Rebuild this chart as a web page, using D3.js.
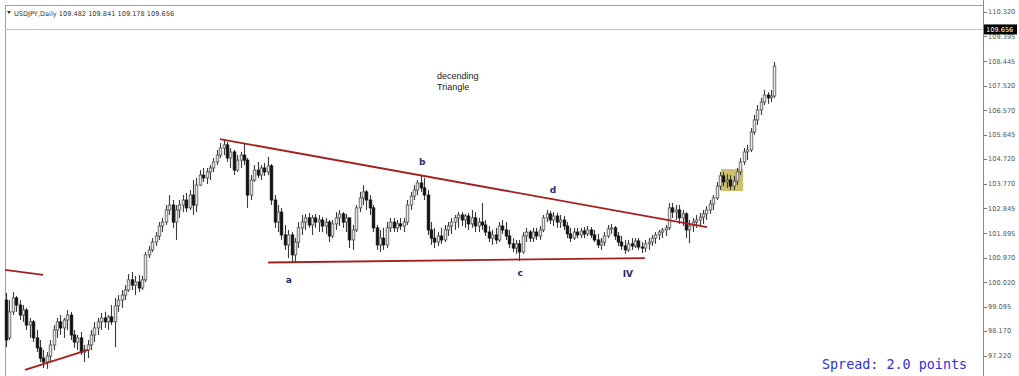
<!DOCTYPE html>
<html><head><meta charset="utf-8">
<script src="https://cdn.jsdelivr.net/npm/d3@7/dist/d3.min.js"></script>
<style>html,body{margin:0;padding:0;background:#fff;}svg{display:block;}</style>
</head><body>
<svg id="chart" width="1019" height="376"></svg>
<script>
// ---- data (USDJPY daily candles) ----
const opens = [99.35,97.91,98.90,99.43,99.16,98.78,98.97,98.40,98.52,97.91,97.53,97.14,96.99,97.22,97.64,98.21,98.52,98.29,98.59,98.78,98.02,97.75,97.91,97.37,97.45,97.64,98.02,98.29,98.52,98.67,98.52,98.71,98.52,99.13,99.35,99.54,99.73,100.12,99.92,100.04,99.81,100.12,101.07,101.26,101.56,101.79,102.17,102.32,102.78,102.97,102.32,102.78,102.97,103.16,102.86,103.35,102.97,103.73,104.11,104.00,104.23,104.38,104.61,104.87,105.14,105.26,104.76,104.99,104.30,104.68,104.87,104.68,103.35,103.92,104.30,104.11,104.38,104.23,104.46,103.16,102.32,102.70,101.83,101.45,101.83,101.07,101.56,102.10,102.32,102.48,102.21,102.48,102.32,102.40,102.17,102.32,101.79,102.25,102.48,102.63,102.32,102.48,101.64,102.02,102.86,103.24,103.47,103.16,102.86,102.10,101.45,101.71,101.45,102.10,102.32,102.10,102.25,102.17,102.32,102.97,103.31,103.54,103.81,103.62,103.35,102.02,101.71,101.56,101.79,101.64,102.02,102.17,102.32,102.48,102.59,102.40,102.55,102.25,102.48,102.17,102.32,102.21,101.94,101.71,101.83,101.64,102.17,102.02,101.79,101.49,101.33,101.49,101.18,101.79,101.94,101.71,101.94,101.79,102.02,102.48,102.63,102.40,102.55,102.32,102.40,102.17,101.87,101.71,101.94,101.83,101.98,101.87,102.02,101.83,101.64,101.45,101.56,101.79,102.06,102.10,101.79,101.56,101.41,101.26,101.49,101.41,101.60,101.37,101.33,101.49,101.56,101.71,101.83,101.94,102.02,102.10,102.86,102.70,102.78,102.48,102.63,102.02,102.17,102.32,102.40,102.51,102.63,102.78,103.01,103.24,103.69,104.08,103.85,103.92,103.69,103.88,104.23,104.61,104.99,105.07,105.75,106.21,106.59,106.89,107.16,107.05,107.12];
const highs = [99.62,99.35,99.66,99.51,99.35,99.16,99.05,98.67,98.59,98.21,97.83,97.45,97.37,97.83,98.40,98.67,98.78,98.67,98.97,98.90,98.21,98.02,98.13,97.64,97.83,98.21,98.52,98.67,98.86,98.90,98.78,99.16,99.43,99.54,99.73,99.92,100.34,100.42,100.27,100.31,100.27,101.18,101.41,101.71,101.94,102.32,102.48,102.97,103.35,103.16,102.97,103.16,103.35,103.43,103.54,103.92,104.00,104.30,104.38,104.38,104.49,104.76,105.07,105.33,105.45,105.37,105.14,105.07,104.87,104.99,105.33,104.76,104.11,104.49,104.61,104.49,104.57,104.80,104.53,103.35,102.97,102.86,102.21,102.02,101.94,101.71,102.32,102.59,102.63,102.67,102.59,102.63,102.59,102.51,102.48,102.40,102.40,102.70,102.78,102.70,102.63,102.48,102.21,102.97,103.47,103.73,103.54,103.35,102.97,102.21,102.02,102.10,102.32,102.48,102.48,102.40,102.48,102.48,103.16,103.47,103.73,103.92,104.08,104.00,103.54,102.32,102.10,101.94,102.10,102.21,102.32,102.48,102.59,102.70,102.70,102.63,102.67,102.78,102.70,102.48,103.05,102.40,102.17,102.02,102.10,102.32,102.40,102.32,102.02,101.71,101.64,101.64,101.94,102.10,102.02,102.10,102.10,102.17,102.59,102.78,102.74,102.70,102.67,102.59,102.55,102.32,102.10,102.10,102.10,102.10,102.13,102.17,102.13,102.02,101.87,101.71,101.94,102.21,102.25,102.17,101.94,101.79,101.64,101.64,101.71,101.71,101.71,101.56,101.64,101.71,101.83,101.94,102.02,102.10,102.21,103.05,103.05,102.97,102.97,102.78,102.70,102.40,102.48,102.59,102.67,102.78,102.93,103.16,103.35,103.85,104.23,104.23,104.15,104.11,104.08,104.38,104.76,105.14,105.26,105.90,106.40,106.78,107.05,107.35,107.27,107.35,108.42];
const lows = [97.56,97.83,98.78,98.90,98.59,98.52,98.21,97.91,97.75,97.37,96.99,96.76,96.73,96.99,97.45,97.91,98.02,97.91,98.21,97.83,97.53,97.45,97.26,96.99,97.14,97.45,97.75,98.02,98.21,98.29,98.21,98.40,97.56,98.90,99.05,99.35,99.66,99.73,99.54,99.66,99.73,100.04,100.95,101.18,101.41,101.64,101.94,102.21,102.59,102.10,101.64,102.48,102.70,102.70,102.78,102.59,102.70,103.69,103.85,103.77,103.92,104.23,104.49,104.76,104.87,104.61,104.38,104.11,104.23,104.38,104.49,102.86,103.16,103.85,104.00,103.92,104.08,104.11,102.97,102.10,101.94,101.64,101.26,100.95,100.80,100.80,101.33,101.83,102.02,102.10,101.83,102.10,101.94,101.94,101.87,101.56,101.71,102.02,102.17,102.10,101.94,101.33,101.26,101.94,102.70,102.97,102.78,102.59,101.94,101.26,101.18,101.26,101.33,101.94,101.94,101.94,102.02,101.94,102.21,102.78,103.16,103.35,103.47,103.16,101.83,101.45,101.33,101.41,101.49,101.56,101.79,101.87,102.02,102.10,102.17,102.10,102.02,102.10,101.94,101.94,102.02,101.79,101.56,101.45,101.49,101.56,101.87,101.64,101.33,101.18,101.11,100.84,101.11,101.56,101.56,101.56,101.64,101.64,101.94,102.32,102.25,102.17,102.10,102.10,102.02,101.71,101.56,101.64,101.71,101.71,101.71,101.79,101.71,101.56,101.33,101.26,101.41,101.71,101.87,101.64,101.41,101.26,101.11,101.18,101.26,101.33,101.26,101.14,101.18,101.26,101.41,101.49,101.64,101.71,101.79,102.02,102.48,102.40,102.25,102.17,101.71,101.52,101.94,102.10,102.17,102.25,102.40,102.63,102.78,103.16,103.54,103.69,103.62,103.54,103.54,103.73,104.11,104.49,104.68,104.99,105.64,106.02,106.40,106.78,106.82,106.89,107.05];
const closes = [97.83,98.90,99.43,99.16,98.78,98.97,98.40,98.52,97.91,97.53,97.14,96.99,97.22,97.64,98.21,98.52,98.29,98.59,98.78,98.02,97.75,97.91,97.37,97.45,97.64,98.02,98.29,98.52,98.67,98.52,98.71,98.52,99.13,99.35,99.54,99.73,100.12,99.92,100.04,99.81,100.12,101.07,101.26,101.56,101.79,102.17,102.32,102.78,102.97,102.32,102.78,102.97,103.16,102.86,103.35,102.97,103.73,104.11,104.00,104.23,104.38,104.61,104.87,105.14,105.26,104.76,104.99,104.30,104.68,104.87,104.68,103.35,103.92,104.30,104.11,104.38,104.23,104.46,103.16,102.32,102.70,101.83,101.45,101.83,101.07,101.56,102.10,102.32,102.48,102.21,102.48,102.32,102.40,102.17,102.32,101.79,102.25,102.48,102.63,102.32,102.48,101.64,102.02,102.86,103.24,103.47,103.16,102.86,102.10,101.45,101.71,101.45,102.10,102.32,102.10,102.25,102.17,102.32,102.97,103.31,103.54,103.81,103.62,103.35,102.02,101.71,101.56,101.79,101.64,102.02,102.17,102.32,102.48,102.59,102.40,102.55,102.25,102.48,102.17,102.32,102.21,101.94,101.71,101.83,101.64,102.17,102.02,101.79,101.49,101.33,101.49,101.18,101.79,101.94,101.71,101.94,101.79,102.02,102.48,102.63,102.40,102.55,102.32,102.40,102.17,101.87,101.71,101.94,101.83,101.98,101.87,102.02,101.83,101.64,101.45,101.56,101.79,102.06,102.10,101.79,101.56,101.41,101.26,101.49,101.41,101.60,101.37,101.33,101.49,101.56,101.71,101.83,101.94,102.02,102.10,102.86,102.70,102.78,102.48,102.63,102.02,102.17,102.32,102.40,102.51,102.63,102.78,103.01,103.24,103.69,104.08,103.85,103.92,103.69,103.88,104.23,104.61,104.99,105.07,105.75,106.21,106.59,106.89,107.16,107.05,107.12,108.26];

const tickValues = [110.320,109.395,108.445,107.520,106.570,105.645,104.720,103.770,102.845,101.895,100.970,100.020,99.095,98.170,97.220];
const currentPrice = 109.656;
const titleText = "USDJPY,Daily  109.482 109.841 109.178 109.656";

// trend lines: [barIndex, price] endpoints
const trendUpper = [[62.9,105.48],[206.2,102.13]];
const trendLower = [[77.1,100.78],[187.9,100.95]];
const trendLeftTop = [[-0.3,100.50],[10.9,100.31]];
const trendLeftBottom = [[5.6,96.69],[24.1,97.45]];
// wave labels: [text, barIndex, price]
const waveLabels = [["a",83.2,100.12],["b",122.4,104.61],["c",151.2,100.38],["d",160.9,103.54],["IV",182.9,100.34]];
const noteLines = ["decending","Triangle"];
const highlightBox = {i0:210.3,i1:216.8,p0:104.34,p1:103.50};

// ---- drawing ----
const W=1019,H=376, axisX=983, frameTop=5, frameLeft=5;
const svg=d3.select("#chart");
const N=closes.length;
const x=d3.scaleLinear().domain([0,N-1]).range([6,6+3.4*(N-1)]);
const y=d3.scaleLinear().domain([97.22,110.32]).range([356,12]);

// frame
svg.append("rect").attr("x",frameLeft+0.5).attr("y",frameTop+0.5).attr("width",axisX-frameLeft).attr("height",H)
  .attr("fill","none").attr("stroke","#a0a0a0").attr("stroke-width",1);

// current price line
svg.append("line").attr("x1",frameLeft).attr("x2",axisX).attr("y1",Math.round(y(currentPrice))+0.5).attr("y2",Math.round(y(currentPrice))+0.5)
  .attr("stroke","#c4c4c4").attr("stroke-width",1);

// highlight box
svg.append("rect").attr("x",x(highlightBox.i0)).attr("y",y(highlightBox.p0))
  .attr("width",x(highlightBox.i1)-x(highlightBox.i0)).attr("height",y(highlightBox.p1)-y(highlightBox.p0))
  .attr("fill","#c9b95c").attr("opacity",0.9);

// candles
const data=d3.range(N).map(i=>({i,o:opens[i],h:highs[i],l:lows[i],c:closes[i]}));
const g=svg.append("g");
g.selectAll("line.w").data(data).join("line").attr("class","w")
  .attr("x1",d=>Math.round(x(d.i))+0.5).attr("x2",d=>Math.round(x(d.i))+0.5)
  .attr("y1",d=>y(d.h)).attr("y2",d=>y(d.l)).attr("stroke","#3a3a3a").attr("stroke-width",1.1);
g.selectAll("rect.b").data(data).join("rect").attr("class","b")
  .attr("x",d=>Math.round(x(d.i))-0.8).attr("width",2.6)
  .attr("y",d=>y(Math.max(d.o,d.c))).attr("height",d=>Math.max(0.8,Math.abs(y(d.o)-y(d.c))))
  .attr("fill",d=>d.c>=d.o?"#e8e8e8":"#111111").attr("stroke",d=>d.c>=d.o?"#555":"#111").attr("stroke-width",0.8);

// trend lines
const lineGen=d3.line().x(d=>x(d[0])).y(d=>y(d[1]));
[trendUpper,trendLower,trendLeftTop,trendLeftBottom].forEach(t=>{
  svg.append("path").attr("d",lineGen(t)).attr("fill","none").attr("stroke","#a51f1f").attr("stroke-width",1.8);
});

// wave labels
svg.selectAll("text.wl").data(waveLabels).join("text").attr("class","wl")
  .attr("x",d=>x(d[1])).attr("y",d=>y(d[2])).attr("dy","0.35em").attr("text-anchor","middle")
  .attr("font-family","DejaVu Sans, sans-serif").attr("font-weight","bold").attr("font-size",9)
  .attr("fill","#1f2a6e").text(d=>d[0]);

// note
svg.selectAll("text.note").data(noteLines).join("text").attr("class","note")
  .attr("x",437).attr("y",(d,k)=>79+k*11).attr("font-family","Liberation Sans, Arial, sans-serif")
  .attr("font-size",9).attr("fill","#222").text(d=>d);

// title
svg.append("path").attr("d","M7,11 L11,11 L9,14 Z").attr("fill","#333");
svg.append("text").attr("x",14).attr("y",15.5).attr("font-family","DejaVu Sans, sans-serif").attr("font-size",6.6)
  .attr("fill","#333").text(titleText);

// right axis
svg.append("line").attr("x1",axisX+0.5).attr("x2",axisX+0.5).attr("y1",0).attr("y2",H).attr("stroke","#8a8a8a");
const ax=svg.append("g");
ax.selectAll("line").data(tickValues).join("line").attr("x1",axisX).attr("x2",axisX+4)
  .attr("y1",d=>Math.round(y(d))+0.5).attr("y2",d=>Math.round(y(d))+0.5).attr("stroke","#777");
ax.selectAll("text").data(tickValues).join("text").attr("x",axisX+5).attr("y",d=>y(d)).attr("dy","0.35em")
  .attr("font-family","DejaVu Sans, sans-serif").attr("font-size",6.6).attr("fill","#555").text(d=>d.toFixed(3));

// current price label
const cp=y(currentPrice);
svg.append("rect").attr("x",axisX+1).attr("y",cp-5).attr("width",33).attr("height",10).attr("fill","#000");
svg.append("text").attr("x",axisX+3).attr("y",cp).attr("dy","0.35em").attr("font-family","DejaVu Sans, sans-serif")
  .attr("font-size",6.6).attr("fill","#fff").text(currentPrice.toFixed(3));

// spread
svg.append("text").attr("x",822).attr("y",369).attr("font-family","DejaVu Sans Mono, monospace").attr("font-size",13.4)
  .attr("fill","#2f2fe0").text("Spread: 2.0 points");
</script>
</body></html>
